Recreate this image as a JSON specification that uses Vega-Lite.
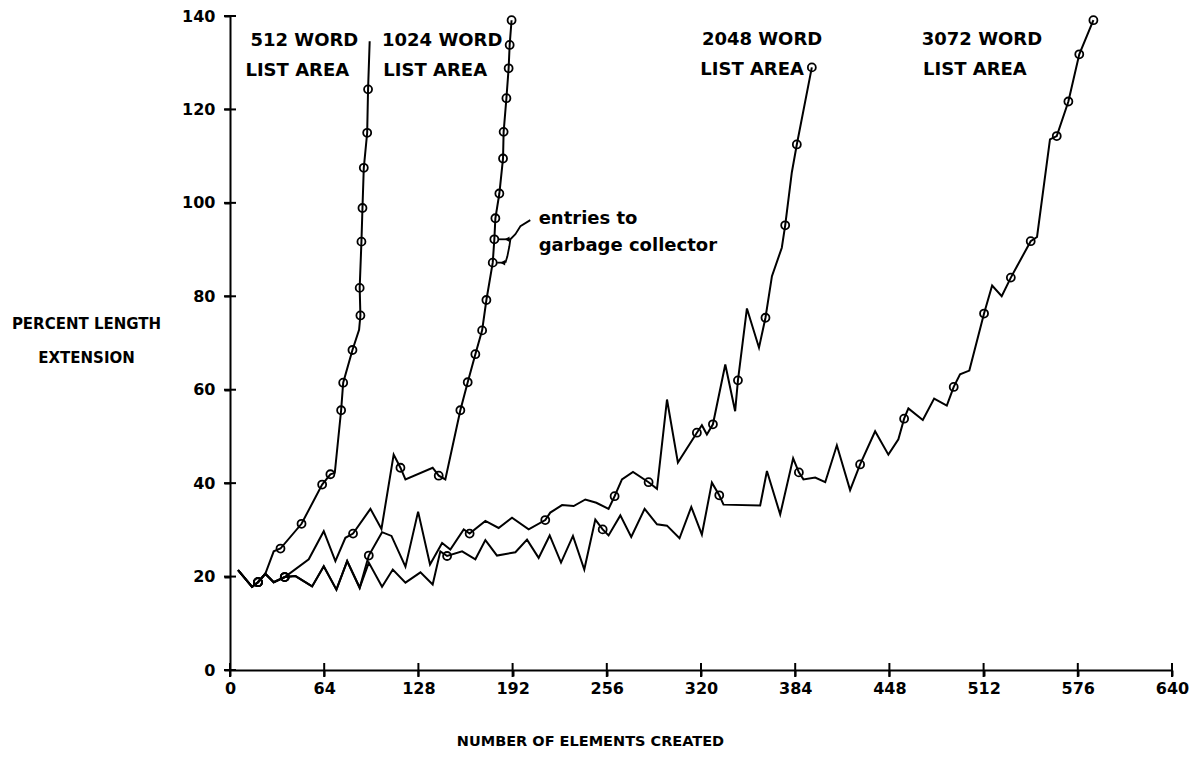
{
  "$schema": "https://vega.github.io/schema/vega-lite/v6.json",
  "width": 942,
  "height": 654,
  "autosize": "none",
  "padding": {"left": 230, "top": 16, "right": 25, "bottom": 95},
  "background": "white",
  "config": {"view": {"stroke": null}, "font": "DejaVu Sans"},
  "datasets": {
    "lines": [
      {"s":"512","i":0,"x":5.5,"y":21.4,"m":0},{"s":"512","i":1,"x":15,"y":17.8,"m":0},{"s":"512","i":2,"x":19,"y":18.8,"m":1},{"s":"512","i":3,"x":24,"y":20.6,"m":0},
      {"s":"512","i":4,"x":29.7,"y":25.4,"m":0},{"s":"512","i":5,"x":34.3,"y":26.0,"m":1},{"s":"512","i":6,"x":48.6,"y":31.3,"m":1},{"s":"512","i":7,"x":62.6,"y":39.7,"m":1},{"s":"512","i":8,"x":68.2,"y":41.9,"m":1},{"s":"512","i":9,"x":71.2,"y":42.2,"m":0},{"s":"512","i":10,"x":75.5,"y":55.6,"m":1},{"s":"512","i":11,"x":76.9,"y":61.5,"m":1},{"s":"512","i":12,"x":83.2,"y":68.5,"m":1},{"s":"512","i":13,"x":87.7,"y":72.8,"m":0},{"s":"512","i":14,"x":88.6,"y":75.9,"m":1},{"s":"512","i":15,"x":88.1,"y":81.8,"m":1},{"s":"512","i":16,"x":89.3,"y":91.7,"m":1},{"s":"512","i":17,"x":90.0,"y":98.9,"m":1},{"s":"512","i":18,"x":90.9,"y":107.5,"m":1},{"s":"512","i":19,"x":93.2,"y":115.0,"m":1},{"s":"512","i":20,"x":93.8,"y":124.3,"m":1},{"s":"512","i":21,"x":94.9,"y":134.6,"m":0},

      {"s":"1024","i":0,"x":5.5,"y":21.4,"m":0},{"s":"1024","i":1,"x":15,"y":17.8,"m":0},{"s":"1024","i":2,"x":19,"y":18.8,"m":1},{"s":"1024","i":3,"x":24,"y":20.6,"m":0},
      {"s":"1024","i":4,"x":29.7,"y":18.8,"m":0},{"s":"1024","i":5,"x":37.2,"y":19.9,"m":1},{"s":"1024","i":6,"x":53.5,"y":23.7,"m":0},{"s":"1024","i":7,"x":63.7,"y":29.7,"m":0},{"s":"1024","i":8,"x":71.6,"y":23.3,"m":0},{"s":"1024","i":9,"x":78.4,"y":28.3,"m":0},{"s":"1024","i":10,"x":83.6,"y":29.2,"m":1},{"s":"1024","i":11,"x":95.4,"y":34.5,"m":0},{"s":"1024","i":12,"x":102.9,"y":30.2,"m":0},{"s":"1024","i":13,"x":111.2,"y":46.1,"m":0},{"s":"1024","i":14,"x":115.8,"y":43.3,"m":1},{"s":"1024","i":15,"x":119.2,"y":40.8,"m":0},{"s":"1024","i":16,"x":137.7,"y":43.3,"m":0},{"s":"1024","i":17,"x":141.8,"y":41.6,"m":1},{"s":"1024","i":18,"x":146.3,"y":40.8,"m":0},{"s":"1024","i":19,"x":156.5,"y":55.6,"m":1},{"s":"1024","i":20,"x":161.5,"y":61.6,"m":1},{"s":"1024","i":21,"x":166.7,"y":67.6,"m":1},{"s":"1024","i":22,"x":171.3,"y":72.7,"m":1},{"s":"1024","i":23,"x":174.2,"y":79.2,"m":1},{"s":"1024","i":24,"x":178.5,"y":87.2,"m":1},{"s":"1024","i":25,"x":179.6,"y":92.2,"m":1},{"s":"1024","i":26,"x":180.3,"y":96.7,"m":1},{"s":"1024","i":27,"x":183.0,"y":102.0,"m":1},{"s":"1024","i":28,"x":185.5,"y":109.5,"m":1},{"s":"1024","i":29,"x":185.9,"y":115.2,"m":1},{"s":"1024","i":30,"x":187.8,"y":122.4,"m":1},{"s":"1024","i":31,"x":189.3,"y":128.8,"m":1},{"s":"1024","i":32,"x":190.0,"y":133.8,"m":1},{"s":"1024","i":33,"x":191.3,"y":139.1,"m":1},

      {"s":"2048","i":0,"x":5.5,"y":21.4,"m":0},{"s":"2048","i":1,"x":15,"y":17.8,"m":0},{"s":"2048","i":2,"x":19,"y":18.8,"m":1},{"s":"2048","i":3,"x":24,"y":20.6,"m":0},
      {"s":"2048","i":4,"x":29.7,"y":18.8,"m":0},{"s":"2048","i":5,"x":37.2,"y":19.9,"m":1},{"s":"2048","i":6,"x":44.5,"y":20.1,"m":0},{"s":"2048","i":7,"x":55.8,"y":17.9,"m":0},{"s":"2048","i":8,"x":63.7,"y":22.2,"m":0},{"s":"2048","i":9,"x":72.3,"y":17.2,"m":0},{"s":"2048","i":10,"x":79.6,"y":23.3,"m":0},{"s":"2048","i":11,"x":88.1,"y":17.6,"m":0},{"s":"2048","i":12,"x":94.3,"y":24.5,"m":1},{"s":"2048","i":13,"x":103.3,"y":29.5,"m":0},{"s":"2048","i":14,"x":109.7,"y":28.7,"m":0},{"s":"2048","i":15,"x":119.2,"y":22.1,"m":0},{"s":"2048","i":16,"x":127.8,"y":33.9,"m":0},{"s":"2048","i":17,"x":135.9,"y":22.6,"m":0},{"s":"2048","i":18,"x":144.1,"y":27.2,"m":0},{"s":"2048","i":19,"x":149.7,"y":25.8,"m":0},{"s":"2048","i":20,"x":158.8,"y":30.1,"m":0},{"s":"2048","i":21,"x":162.8,"y":29.2,"m":1},{"s":"2048","i":22,"x":173.5,"y":31.9,"m":0},{"s":"2048","i":23,"x":182.5,"y":30.4,"m":0},{"s":"2048","i":24,"x":191.6,"y":32.6,"m":0},{"s":"2048","i":25,"x":202.9,"y":30.1,"m":0},{"s":"2048","i":26,"x":214.2,"y":32.1,"m":1},{"s":"2048","i":27,"x":217.6,"y":33.7,"m":0},{"s":"2048","i":28,"x":225.6,"y":35.3,"m":0},{"s":"2048","i":29,"x":233.5,"y":35.1,"m":0},{"s":"2048","i":30,"x":241.4,"y":36.5,"m":0},{"s":"2048","i":31,"x":248.9,"y":35.8,"m":0},{"s":"2048","i":32,"x":257.2,"y":34.5,"m":0},{"s":"2048","i":33,"x":261.3,"y":37.2,"m":1},{"s":"2048","i":34,"x":266.3,"y":40.8,"m":0},{"s":"2048","i":35,"x":273.8,"y":42.4,"m":0},{"s":"2048","i":36,"x":284.4,"y":40.2,"m":1},{"s":"2048","i":37,"x":290.1,"y":38.8,"m":0},{"s":"2048","i":38,"x":296.9,"y":57.9,"m":0},{"s":"2048","i":39,"x":304.3,"y":44.4,"m":0},{"s":"2048","i":40,"x":317.2,"y":50.8,"m":1},{"s":"2048","i":41,"x":320.6,"y":52.4,"m":0},{"s":"2048","i":42,"x":324.0,"y":50.4,"m":0},{"s":"2048","i":43,"x":328.1,"y":52.6,"m":1},{"s":"2048","i":44,"x":336.5,"y":65.4,"m":0},{"s":"2048","i":45,"x":343.2,"y":55.4,"m":0},{"s":"2048","i":46,"x":345.1,"y":62.0,"m":1},{"s":"2048","i":47,"x":351.2,"y":77.4,"m":0},{"s":"2048","i":48,"x":359.4,"y":69.0,"m":0},{"s":"2048","i":49,"x":363.8,"y":75.4,"m":1},{"s":"2048","i":50,"x":368.2,"y":84.3,"m":0},{"s":"2048","i":51,"x":374.9,"y":90.4,"m":0},{"s":"2048","i":52,"x":377.2,"y":95.2,"m":1},{"s":"2048","i":53,"x":381.7,"y":106.5,"m":0},{"s":"2048","i":54,"x":385.1,"y":112.5,"m":1},{"s":"2048","i":55,"x":395.3,"y":129.0,"m":1},

      {"s":"3072","i":0,"x":5.5,"y":21.4,"m":0},{"s":"3072","i":1,"x":15,"y":17.8,"m":0},{"s":"3072","i":2,"x":19,"y":18.8,"m":1},{"s":"3072","i":3,"x":24,"y":20.6,"m":0},
      {"s":"3072","i":4,"x":29.7,"y":18.8,"m":0},{"s":"3072","i":5,"x":37.2,"y":19.9,"m":1},{"s":"3072","i":6,"x":44.5,"y":20.1,"m":0},{"s":"3072","i":7,"x":55.8,"y":17.9,"m":0},{"s":"3072","i":8,"x":63.7,"y":22.2,"m":0},{"s":"3072","i":9,"x":72.3,"y":17.2,"m":0},{"s":"3072","i":10,"x":79.6,"y":23.3,"m":0},{"s":"3072","i":11,"x":88.1,"y":17.6,"m":0},{"s":"3072","i":12,"x":94.3,"y":23.0,"m":0},{"s":"3072","i":13,"x":103.3,"y":17.8,"m":0},{"s":"3072","i":14,"x":110.6,"y":21.5,"m":0},{"s":"3072","i":15,"x":119.2,"y":18.7,"m":0},{"s":"3072","i":16,"x":129.4,"y":20.9,"m":0},{"s":"3072","i":17,"x":137.7,"y":18.3,"m":0},{"s":"3072","i":18,"x":142.9,"y":25.4,"m":0},{"s":"3072","i":19,"x":147.5,"y":24.4,"m":1},{"s":"3072","i":20,"x":157.7,"y":25.4,"m":0},{"s":"3072","i":21,"x":166.7,"y":23.7,"m":0},{"s":"3072","i":22,"x":173.5,"y":27.8,"m":0},{"s":"3072","i":23,"x":181.4,"y":24.5,"m":0},{"s":"3072","i":24,"x":193.9,"y":25.2,"m":0},{"s":"3072","i":25,"x":201.8,"y":27.9,"m":0},{"s":"3072","i":26,"x":209.7,"y":24.0,"m":0},{"s":"3072","i":27,"x":217.2,"y":28.8,"m":0},{"s":"3072","i":28,"x":224.9,"y":23.0,"m":0},{"s":"3072","i":29,"x":233.0,"y":28.7,"m":0},{"s":"3072","i":30,"x":240.7,"y":21.5,"m":0},{"s":"3072","i":31,"x":248.2,"y":32.2,"m":0},{"s":"3072","i":32,"x":253.2,"y":30.1,"m":1},{"s":"3072","i":33,"x":257.2,"y":28.8,"m":0},{"s":"3072","i":34,"x":265.2,"y":33.1,"m":0},{"s":"3072","i":35,"x":272.6,"y":28.5,"m":0},{"s":"3072","i":36,"x":281.7,"y":34.5,"m":0},{"s":"3072","i":37,"x":290.1,"y":31.2,"m":0},{"s":"3072","i":38,"x":296.9,"y":30.9,"m":0},{"s":"3072","i":39,"x":305.4,"y":28.2,"m":0},{"s":"3072","i":40,"x":313.4,"y":34.9,"m":0},{"s":"3072","i":41,"x":320.6,"y":29.0,"m":0},{"s":"3072","i":42,"x":327.4,"y":40.1,"m":0},{"s":"3072","i":43,"x":332.4,"y":37.4,"m":1},{"s":"3072","i":44,"x":335.3,"y":35.4,"m":0},{"s":"3072","i":45,"x":360.2,"y":35.2,"m":0},{"s":"3072","i":46,"x":364.8,"y":42.6,"m":0},{"s":"3072","i":47,"x":373.8,"y":33.3,"m":0},{"s":"3072","i":48,"x":382.6,"y":45.3,"m":0},{"s":"3072","i":49,"x":386.5,"y":42.3,"m":1},{"s":"3072","i":50,"x":389.6,"y":40.8,"m":0},{"s":"3072","i":51,"x":397.6,"y":41.2,"m":0},{"s":"3072","i":52,"x":404.4,"y":40.2,"m":0},{"s":"3072","i":53,"x":412.3,"y":48.1,"m":0},{"s":"3072","i":54,"x":421.3,"y":38.5,"m":0},{"s":"3072","i":55,"x":428.1,"y":44.0,"m":1},{"s":"3072","i":56,"x":438.3,"y":51.1,"m":0},{"s":"3072","i":57,"x":447.3,"y":46.1,"m":0},{"s":"3072","i":58,"x":454.1,"y":49.4,"m":0},{"s":"3072","i":59,"x":458.0,"y":53.8,"m":1},{"s":"3072","i":60,"x":460.9,"y":56.0,"m":0},{"s":"3072","i":61,"x":470.7,"y":53.5,"m":0},{"s":"3072","i":62,"x":478.4,"y":58.1,"m":0},{"s":"3072","i":63,"x":487.0,"y":56.6,"m":0},{"s":"3072","i":64,"x":491.7,"y":60.6,"m":1},{"s":"3072","i":65,"x":496.0,"y":63.3,"m":0},{"s":"3072","i":66,"x":502.3,"y":64.1,"m":0},{"s":"3072","i":67,"x":512.3,"y":76.3,"m":1},{"s":"3072","i":68,"x":517.8,"y":82.3,"m":0},{"s":"3072","i":69,"x":524.3,"y":80.0,"m":0},{"s":"3072","i":70,"x":530.5,"y":84.0,"m":1},{"s":"3072","i":71,"x":544.0,"y":91.8,"m":1},{"s":"3072","i":72,"x":548.3,"y":92.7,"m":0},{"s":"3072","i":73,"x":557.1,"y":113.6,"m":0},{"s":"3072","i":74,"x":561.7,"y":114.3,"m":1},{"s":"3072","i":75,"x":569.6,"y":121.7,"m":1},{"s":"3072","i":76,"x":577.0,"y":131.8,"m":1},{"s":"3072","i":77,"x":586.6,"y":139.1,"m":1}
    ],
    "heads": [
      {"t":"512 WORD","x":13.9,"y":134.6},{"t":"LIST AREA","x":10.5,"y":128.2},
      {"t":"1024 WORD","x":103.3,"y":134.6},{"t":"LIST AREA","x":104.2,"y":128.2},
      {"t":"2048 WORD","x":320.6,"y":134.9},{"t":"LIST AREA","x":319.5,"y":128.4},
      {"t":"3072 WORD","x":470.0,"y":134.9},{"t":"LIST AREA","x":470.9,"y":128.4}
    ],
    "notes": [
      {"t":"entries to","x":209.7,"y":96.5},{"t":"garbage collector","x":209.7,"y":90.7}
    ],
    "ann": [
      {"k":"curve","i":0,"x":204.0,"y":96.3},{"k":"curve","i":1,"x":197.3,"y":95.0},{"k":"curve","i":2,"x":193.9,"y":93.3},{"k":"curve","i":3,"x":190.5,"y":92.2},{"k":"curve","i":4,"x":189.8,"y":90.7},{"k":"curve","i":5,"x":188.4,"y":88.5},{"k":"curve","i":6,"x":187.1,"y":87.2},
      {"k":"h1","i":0,"x":182.6,"y":92.2},{"k":"h1","i":1,"x":190.5,"y":92.2},
      {"k":"h2","i":0,"x":181.5,"y":87.2},{"k":"h2","i":1,"x":187.1,"y":87.2}
    ],
    "arrows": [{"x":188.3,"y":92.2},{"x":185.3,"y":87.2}],
    "xticks": [{"v":0},{"v":64},{"v":128},{"v":192},{"v":256},{"v":320},{"v":384},{"v":448},{"v":512},{"v":576},{"v":640}],
    "yticks": [{"v":0},{"v":20},{"v":40},{"v":60},{"v":80},{"v":100},{"v":120},{"v":140}]
  },
  "layer": [
    {
      "data": {"name": "lines"},
      "mark": {"type": "line", "color": "black", "strokeWidth": 2},
      "encoding": {
        "x": {"field": "x", "type": "quantitative", "scale": {"domain": [0, 640], "nice": false, "zero": false},
          "axis": {"orient": "bottom", "values": [0,64,128,192,256,320,384,448,512,576,640], "grid": false,
            "title": "NUMBER OF ELEMENTS CREATED", "titleFont": "DejaVu Sans", "titleFontSize": 14.5, "titleFontWeight": "bold", "titleColor": "black",
            "titleX": 360, "titleY": 71, "titleAlign": "center", "titleBaseline": "middle",
            "labelFont": "DejaVu Sans", "labelFontSize": 16, "labelFontWeight": "bold", "labelColor": "black", "labelPadding": 4, "labelFlush": false, "labelOverlap": false,
            "domainColor": "black", "domainWidth": 2, "tickColor": "black", "tickWidth": 2, "tickSize": 6}},
        "y": {"field": "y", "type": "quantitative", "scale": {"domain": [0, 140], "nice": false, "zero": false},
          "axis": {"orient": "left", "values": [0,20,40,60,80,100,120,140], "grid": false,
            "title": ["PERCENT LENGTH", "EXTENSION"], "titleAngle": 0, "titleX": -144, "titleY": 307, "titleAlign": "center", "titleBaseline": "middle",
            "titleFont": "DejaVu Sans", "titleFontSize": 15, "titleFontWeight": "bold", "titleColor": "black", "titleLineHeight": 34,
            "labelFont": "DejaVu Sans", "labelFontSize": 16, "labelFontWeight": "bold", "labelColor": "black", "labelPadding": 9, "labelFlush": false, "labelOverlap": false,
            "domainColor": "black", "domainWidth": 2, "tickColor": "black", "tickWidth": 2, "tickSize": 6}},
        "detail": {"field": "s", "type": "nominal"},
        "order": {"field": "i", "type": "quantitative"}
      }
    },
    {
      "data": {"name": "lines"},
      "transform": [{"filter": "datum.m == 1"}],
      "mark": {"type": "point", "shape": "circle", "size": 64, "filled": false, "stroke": "black", "strokeWidth": 1.8, "opacity": 1},
      "encoding": {
        "x": {"field": "x", "type": "quantitative"},
        "y": {"field": "y", "type": "quantitative"}
      }
    },
    {
      "data": {"name": "xticks"},
      "mark": {"type": "tick", "orient": "vertical", "size": 14, "thickness": 2, "color": "black", "opacity": 1},
      "encoding": {
        "x": {"field": "v", "type": "quantitative"},
        "y": {"datum": 0, "type": "quantitative"}
      }
    },
    {
      "data": {"name": "yticks"},
      "mark": {"type": "tick", "orient": "horizontal", "size": 12, "thickness": 2, "color": "black", "opacity": 1},
      "encoding": {
        "x": {"datum": 0, "type": "quantitative"},
        "y": {"field": "v", "type": "quantitative"}
      }
    },
    {
      "data": {"name": "ann"},
      "mark": {"type": "line", "color": "black", "strokeWidth": 1.8},
      "encoding": {
        "x": {"field": "x", "type": "quantitative"},
        "y": {"field": "y", "type": "quantitative"},
        "detail": {"field": "k", "type": "nominal"},
        "order": {"field": "i", "type": "quantitative"}
      }
    },
    {
      "data": {"name": "arrows"},
      "mark": {"type": "point", "shape": "triangle-left", "size": 30, "filled": true, "color": "black", "opacity": 1},
      "encoding": {
        "x": {"field": "x", "type": "quantitative"},
        "y": {"field": "y", "type": "quantitative"}
      }
    },
    {
      "data": {"name": "heads"},
      "mark": {"type": "text", "align": "left", "baseline": "middle", "font": "DejaVu Sans", "fontSize": 18, "fontWeight": "bold", "color": "black"},
      "encoding": {
        "x": {"field": "x", "type": "quantitative"},
        "y": {"field": "y", "type": "quantitative"},
        "text": {"field": "t", "type": "nominal"}
      }
    },
    {
      "data": {"name": "notes"},
      "mark": {"type": "text", "align": "left", "baseline": "middle", "font": "DejaVu Sans", "fontSize": 18, "fontWeight": "bold", "color": "black"},
      "encoding": {
        "x": {"field": "x", "type": "quantitative"},
        "y": {"field": "y", "type": "quantitative"},
        "text": {"field": "t", "type": "nominal"}
      }
    }
  ]
}
